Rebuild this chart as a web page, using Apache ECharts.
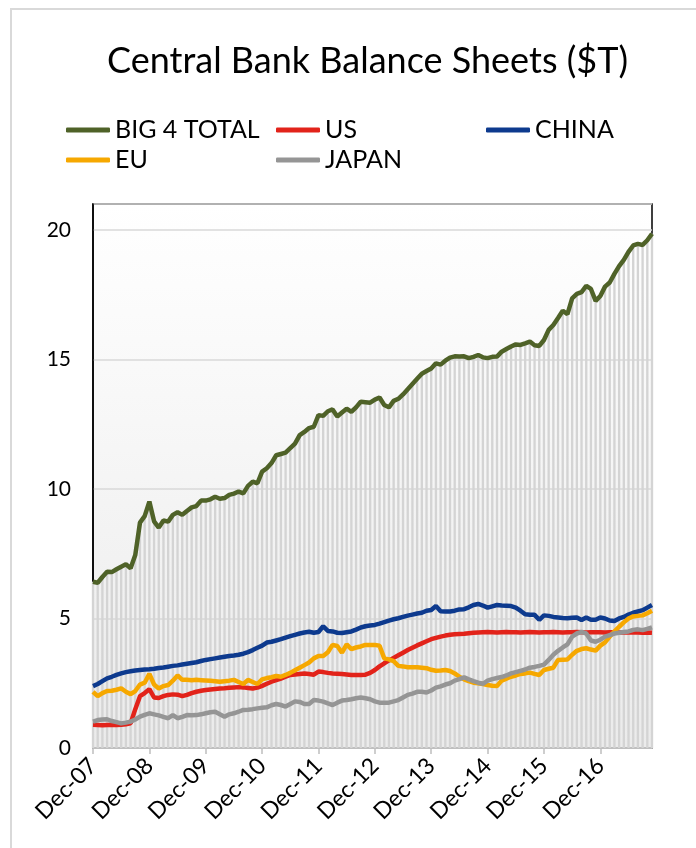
<!DOCTYPE html>
<html lang="en">
<head>
    <meta charset="UTF-8">
    <title>Central Bank Balance Sheets</title>
    <script src="https://cdn.jsdelivr.net/npm/echarts@6/dist/echarts.min.js"></script>
    <style>
        html, body { margin: 0; padding: 0; background: #fff; }
        #chart { width: 696px; height: 848px; }
    </style>
</head>
<body>
<div id="chart"></div>

<script>
    // monthly, Dec-07 .. Nov-17, $ trillions
    var monthNames = ['Dec', 'Jan', 'Feb', 'Mar', 'Apr', 'May', 'Jun', 'Jul', 'Aug', 'Sep', 'Oct', 'Nov'];
    var months = [];
    for (var i = 0; i < 120; i++) {
        var yr = 7 + Math.ceil(i / 12);
        months.push(monthNames[i % 12] + '-' + (yr < 10 ? '0' + yr : yr));
    }

    var big4 = [
        6.42, 6.38, 6.60, 6.80, 6.79, 6.90, 7.00, 7.09, 6.94, 7.45, 8.70, 8.95,
        9.51, 8.75, 8.51, 8.78, 8.74, 9.00, 9.10, 9.00, 9.15, 9.29, 9.34, 9.55,
        9.55, 9.60, 9.70, 9.62, 9.65, 9.77, 9.82, 9.90, 9.83, 10.12, 10.28, 10.22,
        10.67, 10.80, 11.00, 11.30, 11.35, 11.40, 11.58, 11.75, 12.08, 12.20, 12.35, 12.40,
        12.85, 12.82, 13.00, 13.07, 12.80, 12.95, 13.10, 12.98, 13.15, 13.37, 13.35, 13.33,
        13.45, 13.53, 13.24, 13.15, 13.40, 13.48, 13.65, 13.85, 14.05, 14.25, 14.45, 14.55,
        14.65, 14.85, 14.80, 14.95, 15.07, 15.12, 15.11, 15.12, 15.05, 15.10, 15.17, 15.08,
        15.05, 15.10, 15.11, 15.30, 15.40, 15.50, 15.58, 15.56, 15.62, 15.69, 15.55, 15.52,
        15.75, 16.14, 16.33, 16.60, 16.88, 16.75, 17.36, 17.53, 17.60, 17.84, 17.72, 17.26,
        17.45, 17.81, 17.97, 18.30, 18.60, 18.84, 19.15, 19.40, 19.46, 19.42, 19.60, 19.85
    ];
    var us = [
        0.90, 0.89, 0.88, 0.89, 0.90, 0.89, 0.90, 0.92, 0.95, 1.50, 2.00, 2.12,
        2.27, 1.95, 1.93, 2.00, 2.05, 2.07, 2.06, 2.00, 2.05, 2.12, 2.17, 2.21,
        2.24, 2.26, 2.28, 2.30, 2.31, 2.33, 2.34, 2.35, 2.34, 2.32, 2.30, 2.33,
        2.40, 2.48, 2.56, 2.62, 2.68, 2.75, 2.82, 2.84, 2.86, 2.88, 2.86, 2.83,
        2.95, 2.93, 2.90, 2.88, 2.87, 2.86, 2.84, 2.82, 2.82, 2.82, 2.83, 2.90,
        3.01, 3.15, 3.27, 3.38, 3.48, 3.58, 3.68, 3.78, 3.87, 3.96, 4.04, 4.12,
        4.20, 4.25, 4.30, 4.34, 4.37, 4.39, 4.40, 4.41, 4.43, 4.45, 4.46, 4.47,
        4.48, 4.47, 4.46, 4.47, 4.48, 4.47, 4.47, 4.46, 4.47, 4.48, 4.47, 4.46,
        4.47, 4.47, 4.48, 4.47, 4.46, 4.47, 4.47, 4.48, 4.47, 4.46, 4.47, 4.47,
        4.47, 4.46, 4.47, 4.47, 4.46, 4.46, 4.47, 4.46, 4.46, 4.45, 4.46, 4.45
    ];
    var china = [
        2.39, 2.47, 2.58, 2.69, 2.75, 2.82, 2.88, 2.93, 2.96, 2.99, 3.01, 3.03,
        3.04, 3.06, 3.09, 3.11, 3.14, 3.17, 3.19, 3.22, 3.25, 3.28, 3.31, 3.36,
        3.40, 3.43, 3.46, 3.49, 3.52, 3.55, 3.57, 3.60, 3.64, 3.70, 3.78, 3.87,
        3.95, 4.07, 4.10, 4.15, 4.20, 4.26, 4.32, 4.37, 4.42, 4.46, 4.49, 4.45,
        4.48, 4.70, 4.52, 4.50, 4.45, 4.44, 4.47, 4.50, 4.57, 4.65, 4.70, 4.73,
        4.75, 4.80, 4.86, 4.92, 4.97, 5.01, 5.06, 5.11, 5.15, 5.19, 5.22, 5.30,
        5.33, 5.48, 5.28, 5.27, 5.27, 5.30, 5.35, 5.36, 5.43, 5.52, 5.56, 5.50,
        5.42, 5.47, 5.52, 5.50, 5.49, 5.48, 5.42, 5.30, 5.16, 5.14, 5.14, 4.95,
        5.12, 5.10, 5.06, 5.04, 5.02, 5.01, 5.03, 5.04, 4.94, 5.04, 4.95, 4.95,
        5.04, 5.00, 4.92, 4.90, 5.00, 5.06, 5.15, 5.22, 5.27, 5.32, 5.42, 5.52
    ];
    var eu = [
        2.17, 2.00, 2.12, 2.20, 2.21, 2.25, 2.30, 2.17, 2.08, 2.20, 2.45, 2.52,
        2.86, 2.45, 2.30, 2.39, 2.43, 2.60, 2.80, 2.63, 2.63, 2.62, 2.63, 2.62,
        2.61, 2.60, 2.58, 2.56, 2.58, 2.60, 2.63, 2.55, 2.47, 2.63, 2.55, 2.47,
        2.65, 2.70, 2.73, 2.78, 2.75, 2.82, 2.90, 3.00, 3.10, 3.20, 3.30, 3.46,
        3.55, 3.55, 3.70, 3.98, 3.94, 3.68, 4.00, 3.82, 3.88, 3.92, 3.98, 3.98,
        3.98, 3.95, 3.46, 3.42, 3.35, 3.17, 3.15, 3.12, 3.12, 3.12, 3.10, 3.08,
        3.02, 2.98, 2.99, 3.01, 2.97, 2.88, 2.75, 2.65, 2.58, 2.52, 2.50, 2.47,
        2.43, 2.40, 2.39, 2.60, 2.68, 2.75, 2.80, 2.86, 2.88, 2.91, 2.86, 2.82,
        3.01, 3.06, 3.10, 3.40, 3.41, 3.42, 3.60, 3.75, 3.82, 3.85, 3.80, 3.76,
        3.95, 4.08, 4.30, 4.50, 4.68, 4.85, 5.00, 5.08, 5.10, 5.12, 5.20, 5.30
    ];
    var japan = [
        1.02, 1.08, 1.10, 1.11, 1.04, 1.00, 0.95, 0.98, 1.02, 1.10, 1.21, 1.28,
        1.34, 1.30, 1.26, 1.20, 1.15, 1.27, 1.15, 1.20, 1.27, 1.26, 1.27, 1.30,
        1.34, 1.38, 1.40, 1.30, 1.21, 1.30, 1.34, 1.40, 1.47, 1.48, 1.50, 1.53,
        1.55, 1.57, 1.65, 1.70, 1.66, 1.60, 1.70, 1.80, 1.78, 1.70, 1.70, 1.85,
        1.83, 1.79, 1.72, 1.66, 1.75, 1.83, 1.85, 1.88, 1.92, 1.95, 1.92, 1.88,
        1.80, 1.75, 1.75, 1.75, 1.80, 1.85, 1.95, 2.05, 2.10, 2.17, 2.17, 2.14,
        2.22, 2.33, 2.38, 2.45, 2.50, 2.60, 2.66, 2.73, 2.65, 2.58, 2.52, 2.48,
        2.60, 2.66, 2.70, 2.74, 2.80, 2.88, 2.93, 2.98, 3.03, 3.10, 3.13, 3.17,
        3.22, 3.40, 3.60, 3.75, 3.88, 4.00, 4.30, 4.42, 4.48, 4.42, 4.15, 4.10,
        4.18, 4.30, 4.36, 4.42, 4.45, 4.48, 4.50, 4.56, 4.58, 4.55, 4.60, 4.66
    ];

    var FONT = 'Lato, "Open Sans", sans-serif';

    var chart = echarts.init(document.getElementById('chart'), null, { renderer: 'canvas' });

    function legendAt(name, left, top) {
        return {
            data: [name],
            left: left,
            top: top,
            icon: 'roundRect',
            itemWidth: 44,
            itemHeight: 5,
            textStyle: { fontFamily: FONT, fontSize: 25, color: '#000', lineHeight: 26 }
        };
    }

    var option = {
        backgroundColor: '#fff',
        animation: false,
        title: {
            text: 'Central Bank Balance Sheets ($T)',
            left: 102,
            top: 38,
            textStyle: { fontFamily: FONT, fontSize: 36, fontWeight: 'normal', color: '#000' }
        },
        graphic: [{
            type: 'rect',
            shape: { x: 11, y: 9, width: 720, height: 880 },
            style: { fill: null, stroke: '#d9d9d9', lineWidth: 2 },
            silent: true
        }],
        legend: [
            legendAt('BIG 4 TOTAL', 61, 112),
            legendAt('US', 271, 112),
            legendAt('CHINA', 481, 112),
            legendAt('EU', 61, 142),
            legendAt('JAPAN', 271, 142)
        ],
        grid: {
            left: 93,
            right: 44,
            top: 204,
            bottom: 100,
            show: true,
            borderColor: '#000',
            borderWidth: 1.5,
            backgroundColor: {
                type: 'linear', x: 0, y: 0, x2: 0, y2: 1,
                colorStops: [
                    { offset: 0, color: '#ffffff' },
                    { offset: 1, color: '#ebebeb' }
                ]
            }
        },
        xAxis: {
            type: 'category',
            data: months,
            boundaryGap: false,
            axisLine: { lineStyle: { color: '#bfbfbf', width: 2 } },
            axisTick: { interval: 11, length: 6, lineStyle: { color: '#bfbfbf', width: 1.5 } },
            axisLabel: {
                interval: 11,
                rotate: 45,
                margin: 14,
                fontFamily: FONT,
                fontSize: 23,
                color: '#000'
            },
            splitLine: { show: false }
        },
        yAxis: {
            type: 'value',
            min: 0,
            max: 21,
            interval: 5,
            axisLine: { show: true, lineStyle: { color: '#000', width: 1.5 } },
            axisTick: { show: false },
            axisLabel: {
                showMaxLabel: false,
                margin: 22,
                fontFamily: FONT,
                fontSize: 21,
                color: '#000'
            },
            splitLine: { lineStyle: { color: '#d9d9d9', width: 1.5 } }
        },
        series: [
            {
                name: 'stripes',
                type: 'bar',
                data: big4,
                barWidth: '50%',
                silent: true,
                itemStyle: { color: '#d4d4d4' },
                z: 1
            },
            {
                name: 'BIG 4 TOTAL', type: 'line', data: big4, showSymbol: false,
                lineStyle: { width: 4.5, color: '#4f6228' }, itemStyle: { color: '#4f6228' }, z: 3
            },
            {
                name: 'US', type: 'line', data: us, showSymbol: false,
                lineStyle: { width: 4.5, color: '#e2231a' }, itemStyle: { color: '#e2231a' }, z: 3
            },
            {
                name: 'CHINA', type: 'line', data: china, showSymbol: false,
                lineStyle: { width: 4.5, color: '#0d3a8e' }, itemStyle: { color: '#0d3a8e' }, z: 3
            },
            {
                name: 'EU', type: 'line', data: eu, showSymbol: false,
                lineStyle: { width: 4.5, color: '#f6a800' }, itemStyle: { color: '#f6a800' }, z: 3
            },
            {
                name: 'JAPAN', type: 'line', data: japan, showSymbol: false,
                lineStyle: { width: 4.5, color: '#959595' }, itemStyle: { color: '#959595' }, z: 3
            }
        ]
    };

    chart.setOption(option);
</script>
</body>
</html>
